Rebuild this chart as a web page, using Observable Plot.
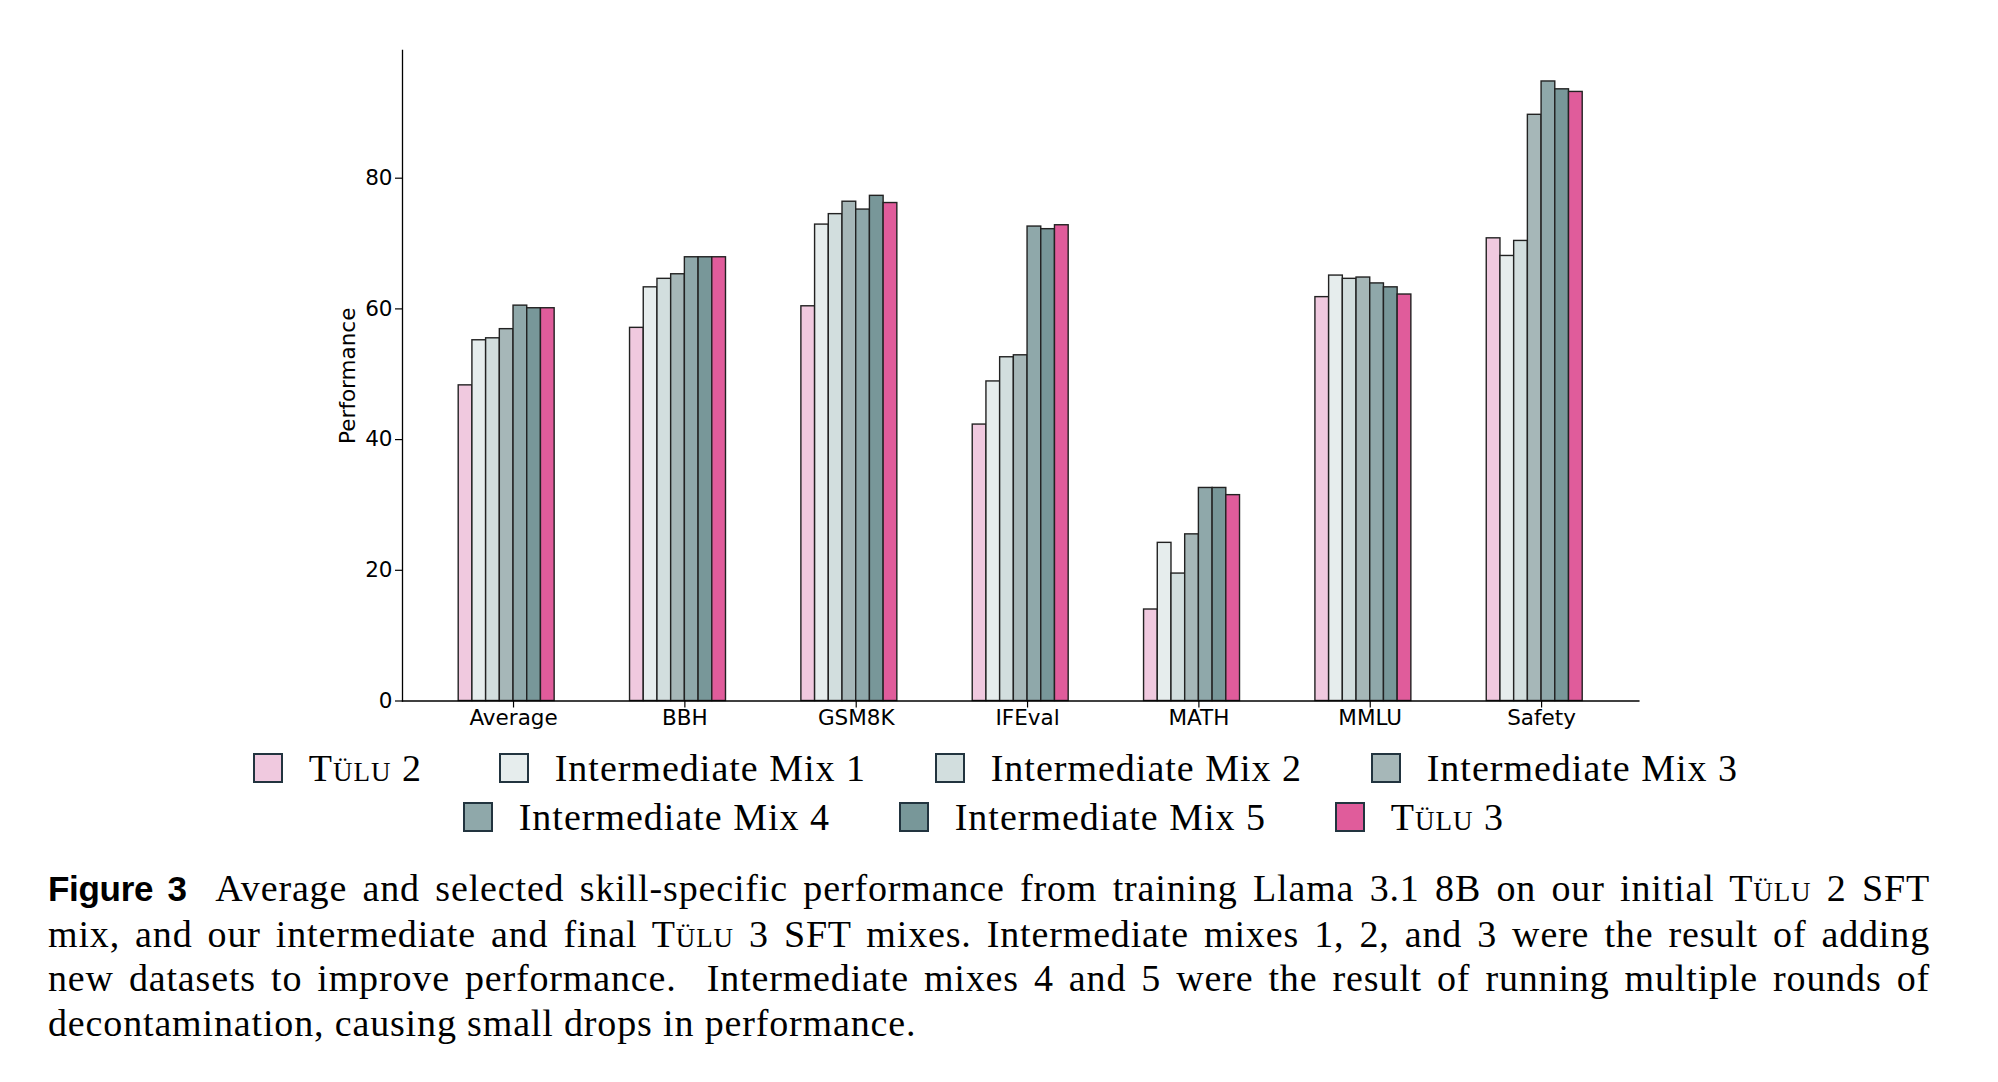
<!DOCTYPE html>
<html>
<head>
<meta charset="utf-8">
<script src="https://cdn.jsdelivr.net/npm/d3@7"></script>
<script src="https://cdn.jsdelivr.net/npm/@observablehq/plot@0.6"></script>
<style>
  html, body { margin: 0; padding: 0; background: #fff; }
  body { width: 1998px; height: 1082px; position: relative; overflow: hidden; }
  #chart { position: absolute; left: 0; top: 0; }
  .legend-row { position: absolute; display: flex; align-items: center; height: 30px;
    font-family: "Liberation Serif", serif; font-size: 38px; letter-spacing: 1px; color: #000; white-space: nowrap; }
  .sw { box-sizing: border-box; width: 30px; height: 30px; border: 2px solid #22343f; margin-right: 26px; flex: none; }
  .lab { display: inline-block; line-height: 30px; }
  .sc { font-variant: small-caps; }
  #caption { position: absolute; left: 48px; top: 866px; width: 1882px;
    font-family: "Liberation Serif", serif; font-size: 38px; line-height: 44.6px; letter-spacing: 0.85px; color: #000; }
  #caption .ln { display: block; text-align: justify; text-align-last: justify; }
  #caption .ln.last { text-align-last: left; }
  #caption b { font-family: "Liberation Sans", sans-serif; font-weight: 700; font-size: 35px; letter-spacing: -0.3px; }
</style>
</head>
<body>
<div id="chart"></div>
<div id="legend"></div>
<div id="caption">
  <span class="ln"><b>Figure 3</b>&nbsp; Average and selected skill-specific performance from training Llama 3.1 8B on our initial T<span class="sc">ülu</span> 2 SFT</span>
  <span class="ln">mix, and our intermediate and final T<span class="sc">ülu</span> 3 SFT mixes. Intermediate mixes 1, 2, and 3 were the result of adding</span>
  <span class="ln">new datasets to improve performance.&nbsp; Intermediate mixes 4 and 5 were the result of running multiple rounds of</span>
  <span class="ln last">decontamination, causing small drops in performance.</span>
</div>
<script>
// ---- data ----
const categories = ["Average", "BBH", "GSM8K", "IFEval", "MATH", "MMLU", "Safety"];
const seriesNames = ["Tülu 2", "Intermediate Mix 1", "Intermediate Mix 2", "Intermediate Mix 3",
                     "Intermediate Mix 4", "Intermediate Mix 5", "Tülu 3"];
const tulu2 = [48.3, 57.1, 60.4, 42.3, 14.0, 61.8, 70.8];
const mix1  = [55.2, 63.3, 72.9, 48.9, 24.2, 65.1, 68.1];
const mix2  = [55.5, 64.6, 74.5, 52.6, 19.5, 64.6, 70.4];
const mix3  = [56.9, 65.3, 76.4, 52.9, 25.5, 64.8, 89.7];
const mix4  = [60.5, 67.9, 75.2, 72.6, 32.6, 63.9, 94.8];
const mix5  = [60.1, 67.9, 77.3, 72.2, 32.6, 63.3, 93.6];
const tulu3 = [60.1, 67.9, 76.2, 72.8, 31.5, 62.2, 93.2];
const yTicks = [0, 20, 40, 60, 80];
const colors = ["#f0c9df", "#e6eded", "#d2dede", "#a6b7b8", "#8fa8aa", "#789799", "#e05c9b"];

const seriesValues = [tulu2, mix1, mix2, mix3, mix4, mix5, tulu3];
const table = categories.flatMap((c, ci) =>
  seriesNames.map((s, si) => ({category: c, ci, series: s, si, value: seriesValues[si][ci]})));

// matplotlib-like grouped bars: bar width in category units, 5% margins
const bw = 0.08;
const lo = -4 * bw, hi = (categories.length - 1) + 3 * bw;
const pad = 0.05 * (hi - lo);
const yMax = d3.max(table, d => d.value) * 1.05;

const W = 1998, H = 740;
const chart = Plot.plot({
  width: W, height: H,
  marginLeft: 402, marginRight: W - 1638.4, marginTop: 50, marginBottom: H - 700.5,
  x: {domain: [lo - pad, hi + pad]},
  y: {domain: [0, yMax]},
  color: {domain: seriesNames, range: colors},
  style: {fontFamily: "DejaVu Sans, sans-serif", fontSize: "21.5px", color: "#000", background: "#fff", overflow: "visible"},
  marks: [
    Plot.rect(table, {
      x1: d => d.ci + (d.si - 4) * bw,
      x2: d => d.ci + (d.si - 3) * bw,
      y1: 0, y2: "value",
      fill: "series", stroke: "#222", strokeWidth: 1.4
    }),
    Plot.frame({anchor: "left", stroke: "#000", strokeWidth: 1.3}),
    Plot.frame({anchor: "bottom", stroke: "#000", strokeWidth: 1.3}),
    Plot.axisX({ticks: categories.map((c, i) => i), tickFormat: i => categories[i],
      tickSize: 7, tickPadding: 2, label: null, fontSize: 21.5, strokeWidth: 1.2}),
    Plot.axisY({ticks: yTicks, tickSize: 7, tickPadding: 3, label: null, fontSize: 21.5, strokeWidth: 1.2}),
    Plot.text(["Performance"], {frameAnchor: "left", textAnchor: "middle", dx: -54, rotate: -90, fontSize: 21.5, fill: "#000"})
  ]
});
document.getElementById("chart").appendChild(chart);

// ---- legend (two centred rows, as in the reference) ----
const legend = document.getElementById("legend");
const rows = [{items: [0, 1, 2, 3], left: 252.7, top: 753}, {items: [4, 5, 6], left: 462.7, top: 801.7}];
for (const r of rows) {
  const row = document.createElement("div");
  row.className = "legend-row";
  row.style.left = r.left + "px";
  row.style.top = r.top + "px";
  r.items.forEach((si, k) => {
    const sw = document.createElement("span");
    sw.className = "sw";
    sw.style.background = colors[si];
    const lab = document.createElement("span");
    lab.className = "lab";
    const name = seriesNames[si];
    if (name.startsWith("Tülu")) {
      lab.innerHTML = 'T<span class="sc">ülu</span>' + name.slice(4);
      lab.style.width = "120px";
    } else {
      lab.textContent = name;
      lab.style.width = "310px";
    }
    if (k < r.items.length - 1) lab.style.marginRight = "70px";
    row.appendChild(sw);
    row.appendChild(lab);
  });
  legend.appendChild(row);
}
</script>
</body>
</html>
